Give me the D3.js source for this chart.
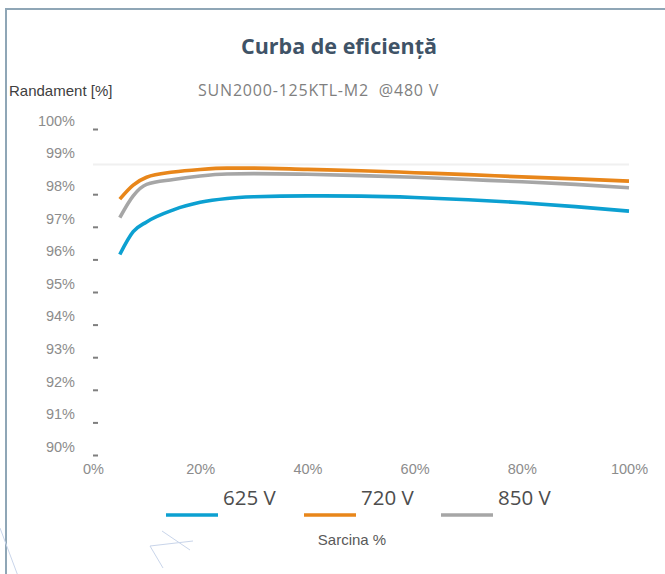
<!DOCTYPE html>
<html>
<head>
<meta charset="utf-8">
<script src="https://cdn.jsdelivr.net/npm/d3@7"></script>
<style>
  body { margin: 0; background: #fff; }
  svg { display: block; }
</style>
</head>
<body>
<div id="vis"></div>
<script>
const FRAME_WIDTH = 665;
const FRAME_HEIGHT = 574;
const MARGINS = {left: 93, right: 36, top: 129, bottom: 119};

// load (%) where the curves are sampled
const load = [5, 7.5, 10, 15, 20, 25, 30, 40, 50, 60, 70, 80, 90, 100];

// efficiency (%) per input voltage
const eff625 = [96.15, 96.85, 97.15, 97.52, 97.75, 97.87, 97.92, 97.95, 97.94, 97.9, 97.83, 97.74, 97.62, 97.48];
const eff720 = [97.85, 98.28, 98.52, 98.68, 98.76, 98.8, 98.8, 98.76, 98.72, 98.66, 98.6, 98.53, 98.47, 98.4];
const eff850 = [97.28, 97.95, 98.3, 98.45, 98.56, 98.62, 98.63, 98.61, 98.57, 98.52, 98.45, 98.38, 98.3, 98.2];

const seriesNames = ["625 V", "720 V", "850 V"];
const seriesColors = ["#0ca0d1", "#e8861a", "#a6a6a6"];

const yTicks = [90, 91, 92, 93, 94, 95, 96, 97, 98, 99, 100];
const xTicks = [0, 20, 40, 60, 80, 100];

const series = [eff625, eff720, eff850].map((vals, i) => ({
  name: seriesNames[i],
  color: seriesColors[i],
  points: load.map((x, j) => ({x: x, y: vals[j]}))
}));

const FRAME = d3.select("#vis")
  .append("svg")
    .attr("width", FRAME_WIDTH)
    .attr("height", FRAME_HEIGHT);

// outer frame (only top and left edges visible)
FRAME.append("path")
  .attr("d", "M6,580 V9 H670")
  .attr("fill", "none")
  .attr("stroke", "#8fa6b6")
  .attr("stroke-width", 2);

// faint decorative strokes bottom left
const deco = [[0, 528, 18, 576], [162, 531, 190, 550], [150, 546, 193, 541], [150, 546, 163, 568]];
FRAME.selectAll(".deco")
  .data(deco)
  .enter()
  .append("line")
    .attr("x1", d => d[0]).attr("y1", d => d[1])
    .attr("x2", d => d[2]).attr("y2", d => d[3])
    .attr("stroke", "#c9d5ea")
    .attr("stroke-width", 1);

const X_SCALE = d3.scaleLinear()
  .domain([0, 100])
  .range([MARGINS.left, FRAME_WIDTH - MARGINS.right]);

const Y_SCALE = d3.scaleLinear()
  .domain([90, 100])
  .range([FRAME_HEIGHT - MARGINS.bottom, MARGINS.top]);

// title + captions
FRAME.append("text")
  .attr("x", 339).attr("y", 54)
  .attr("text-anchor", "middle")
  .attr("font-family", "Open Sans")
  .attr("font-weight", "bold")
  .attr("font-size", "21.5px")
  .attr("fill", "#3f5367")
  .text("Curba de eficiență");

FRAME.append("text")
  .attr("x", 9).attr("y", 96)
  .attr("font-family", "Liberation Sans, Arial")
  .attr("font-size", "15px")
  .attr("fill", "#404040")
  .text("Randament [%]");

FRAME.append("text")
  .attr("x", 198).attr("y", 96)
  .attr("font-family", "Open Sans")
  .attr("font-size", "16px")
  .attr("letter-spacing", "0.8px")
  .attr("fill", "#7f7f7f")
  .attr("xml:space", "preserve")
  .text("SUN2000-125KTL-M2  @480 V");

// light grid line at 99 %
FRAME.append("line")
  .attr("x1", X_SCALE(0)).attr("x2", X_SCALE(100))
  .attr("y1", Y_SCALE(99) + 3).attr("y2", Y_SCALE(99) + 3)
  .attr("stroke", "#f0f0f0")
  .attr("stroke-width", 2);

// y axis: labels sit above short tick dashes
const yAxis = FRAME.append("g")
  .attr("transform", "translate(" + MARGINS.left + ",0)")
  .call(d3.axisLeft(Y_SCALE).tickValues(yTicks).tickSize(0).tickPadding(18)
    .tickFormat(d => d + "%"));
yAxis.select(".domain").remove();
yAxis.selectAll("text")
  .attr("font-family", "Liberation Sans, Arial")
  .attr("font-size", "14.5px")
  .attr("fill", "#8c8c8c")
  .attr("dy", "-0.25em");
yAxis.selectAll(".tick")
  .filter(d => d !== 99)
  .append("rect")
    .attr("x", 0).attr("y", -1)
    .attr("width", 5).attr("height", 2)
    .attr("fill", "#7f7f7f");

// x axis labels
const xAxis = FRAME.append("g")
  .attr("transform", "translate(0," + (FRAME_HEIGHT - MARGINS.bottom) + ")")
  .call(d3.axisBottom(X_SCALE).tickValues(xTicks).tickSize(0).tickPadding(9)
    .tickFormat(d => d + "%"));
xAxis.select(".domain").remove();
xAxis.selectAll("text")
  .attr("font-family", "Liberation Sans, Arial")
  .attr("font-size", "14.5px")
  .attr("fill", "#8c8c8c");

// curves
const line = d3.line()
  .x(d => X_SCALE(d.x))
  .y(d => Y_SCALE(d.y))
  .curve(d3.curveMonotoneX);

FRAME.selectAll(".curve")
  .data(series)
  .enter()
  .append("path")
    .attr("class", "curve")
    .attr("d", d => line(d.points))
    .attr("fill", "none")
    .attr("stroke", d => d.color)
    .attr("stroke-width", 3.6);

// legend
const LEGEND_X = [166, 304, 441];
const legend = FRAME.selectAll(".legend")
  .data(series)
  .enter()
  .append("g")
    .attr("class", "legend")
    .attr("transform", (d, i) => "translate(" + LEGEND_X[i] + ",0)");

legend.append("line")
  .attr("x1", 0).attr("x2", 52)
  .attr("y1", 515).attr("y2", 515)
  .attr("stroke", d => d.color)
  .attr("stroke-width", 3.6);

legend.append("text")
  .attr("x", 57).attr("y", 505)
  .attr("font-family", "Open Sans")
  .attr("font-size", "20.5px")
  .attr("fill", "#4d4d4d")
  .text(d => d.name);

FRAME.append("text")
  .attr("x", 352).attr("y", 545)
  .attr("text-anchor", "middle")
  .attr("font-family", "Liberation Sans, Arial")
  .attr("font-size", "15px")
  .attr("fill", "#595959")
  .text("Sarcina %");
</script>
</body>
</html>
